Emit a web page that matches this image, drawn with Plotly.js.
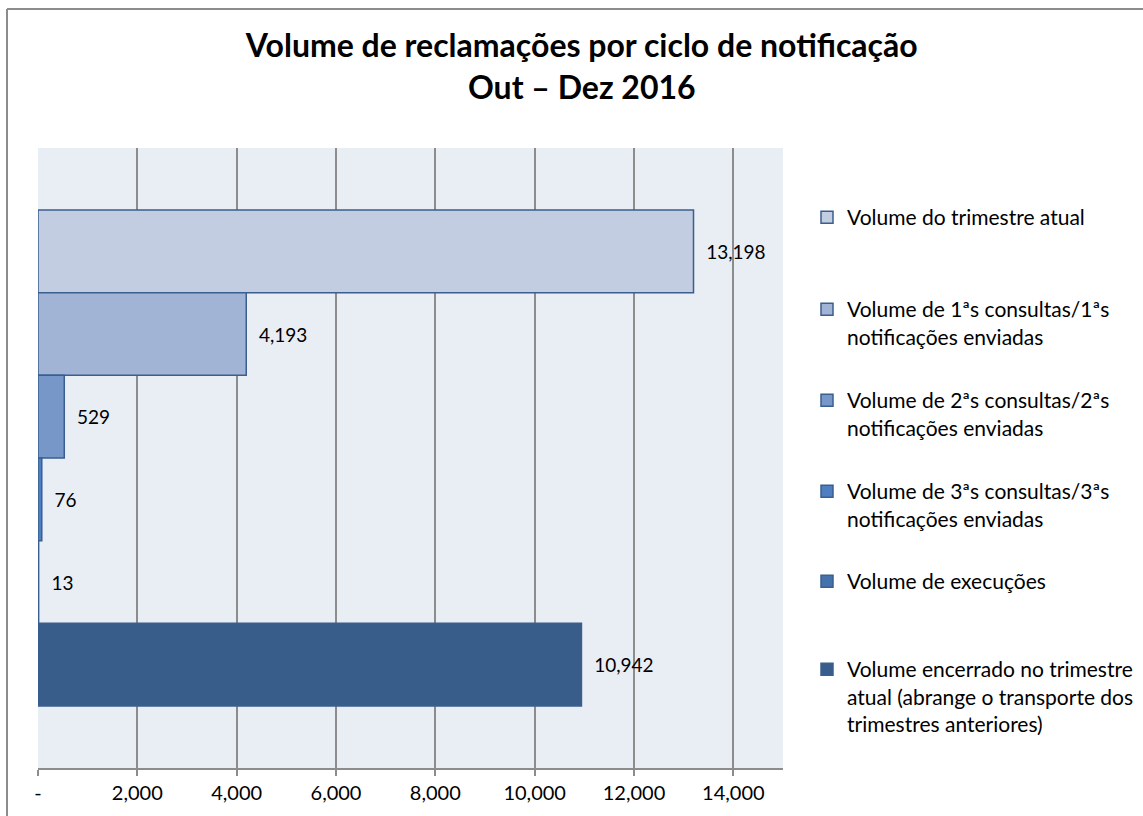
<!DOCTYPE html>
<html>
<head>
<meta charset="utf-8">
<script src="https://cdn.plot.ly/plotly-3.0.1.min.js"></script>
<style>html,body{margin:0;padding:0;background:#fff;}#chart{width:1143px;height:816px;}</style>
</head>
<body>
<div id="chart"></div>
<script>
const category = ["Out – Dez 2016"];
const seriesNames = [
  "Volume do trimestre atual",
  "Volume de 1ªs consultas/1ªs<br>notificações enviadas",
  "Volume de 2ªs consultas/2ªs<br>notificações enviadas",
  "Volume de 3ªs consultas/3ªs<br>notificações enviadas",
  "Volume de execuções",
  "Volume encerrado no trimestre<br>atual (abrange o transporte dos<br>trimestres anteriores)"
];
const seriesValues = [13198, 4193, 529, 76, 13, 10942];
const tickValues = [0, 2000, 4000, 6000, 8000, 10000, 12000, 14000];
const tickLabels = ["-", "2,000", "4,000", "6,000", "8,000", "10,000", "12,000", "14,000"];

const colors = ["#c2cde2", "#a2b4d6", "#7797c8", "#4f7fc0", "#4672ac", "#385d8a"];
const legendTopPx = [217, 309, 400, 491, 581, 669];

const W = 1143, H = 816;
const M = {l: 38, r: 360, t: 148, b: 48, autoexpand: false};
const pw = W - M.l - M.r, ph = H - M.t - M.b;
const px2x = p => (p - M.l) / pw;
const py2y = p => (H - M.b - p) / ph;

const FONT = "Lato, 'Open Sans', sans-serif";

const traces = seriesNames.map((name, i) => ({
  type: "bar",
  orientation: "h",
  name: name,
  y: category,
  x: [seriesValues[i]],
  marker: {color: colors[i], line: {color: "#3a5f8e", width: 1.5}},
  text: [seriesValues[i]],
  texttemplate: "\u00a0\u00a0%{x:,}",
  textposition: "outside",
  textfont: {family: FONT, size: 19, color: "#000"},
  cliponaxis: false,
  showlegend: true,
  hoverinfo: "x+name",
  legend: i === 0 ? "legend" : "legend" + (i + 1)
}));

const layout = {
  width: W, height: H,
  margin: M,
  showlegend: true,
  paper_bgcolor: "#ffffff",
  plot_bgcolor: "#e9edf4",
  font: {family: FONT, size: 19, color: "#000"},
  title: {
    text: "<b>Volume de reclamações por ciclo de notificação<br>Out – Dez 2016</b>",
    font: {family: FONT, size: 32, color: "#000"},
    x: 0.509, xref: "container", xanchor: "center",
    y: 1 - 57 / H, yref: "container", yanchor: "middle"
  },
  barmode: "group",
  bargap: 0.2,
  bargroupgap: 0,
  xaxis: {
    range: [0, 15000],
    tickvals: tickValues,
    ticktext: tickLabels,
    showgrid: true,
    gridcolor: "#8c8c8c",
    gridwidth: 1.5,
    zeroline: false,
    showline: true,
    linecolor: "#8c8c8c",
    linewidth: 2,
    ticks: "outside",
    ticklen: 6,
    tickwidth: 1.5,
    tickcolor: "#8c8c8c",
    tickfont: {family: FONT, size: 20, color: "#000"},
    automargin: false,
    fixedrange: true
  },
  yaxis: {
    type: "category",
    autorange: "reversed",
    showticklabels: false,
    showgrid: false,
    zeroline: false,
    ticks: "",
    automargin: false,
    fixedrange: true
  },
  shapes: [
    {type: "line", xref: "paper", yref: "paper", x0: px2x(7), x1: px2x(1150), y0: py2y(9), y1: py2y(9), line: {color: "#8c8c8c", width: 2}},
    {type: "line", xref: "paper", yref: "paper", x0: px2x(7), x1: px2x(7), y0: py2y(9), y1: py2y(820), line: {color: "#8c8c8c", width: 2}}
  ]
};

seriesNames.forEach((n, i) => {
  const key = i === 0 ? "legend" : "legend" + (i + 1);
  layout[key] = {
    x: px2x(807), xanchor: "left",
    y: py2y(legendTopPx[i] - 20), yanchor: "top",
    bgcolor: "rgba(0,0,0,0)",
    valign: "top",
    font: {family: FONT, size: 21, color: "#000"},
    itemclick: false, itemdoubleclick: false
  };
});

Plotly.newPlot("chart", traces, layout, {displayModeBar: false, responsive: false});
</script>
</body>
</html>
